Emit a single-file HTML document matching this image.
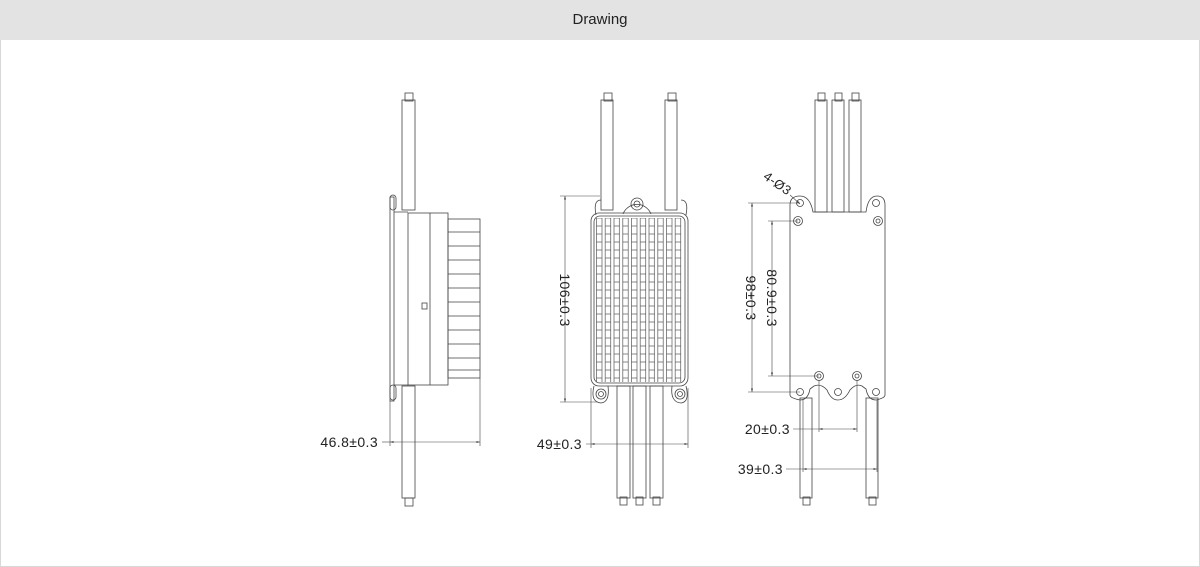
<!DOCTYPE html>
<html><head><meta charset="utf-8"><style>
html,body{margin:0;padding:0;background:#fff;width:1200px;height:567px;overflow:hidden;font-family:"Liberation Sans",sans-serif}
.hdr{position:absolute;left:0;top:0;width:1200px;height:40px;background:#e3e3e3;text-align:center;line-height:39px;font-size:15px;color:#222}
.frame{position:absolute;left:0;top:40px;width:1198px;height:526px;border:1px solid #d8d8d8;border-top:none}
svg{position:absolute;left:0;top:0}
</style></head><body>
<div class="hdr">Drawing</div><div class="frame"></div>
<svg width="1200" height="567" viewBox="0 0 1200 567">
<defs>
<pattern id="fin" x="596" y="218" width="8.75" height="8" patternUnits="userSpaceOnUse">
<rect x="0.5" y="0" width="5.5" height="8" fill="none" stroke="#555" stroke-width="0.7"/>
</pattern>
<marker id="ar" viewBox="0 0 10 10" refX="10" refY="5" markerWidth="6" markerHeight="6" orient="auto-start-reverse"><path d="M0 2 L10 5 L0 8 Z" fill="#444"/></marker>
</defs>
<g fill="none" stroke="#444" stroke-width="0.8">
<!-- LEFT VIEW -->
<rect x="405" y="93" width="8" height="8"/><rect x="402" y="100" width="13" height="110"/>
<rect x="405" y="498" width="8" height="8"/><rect x="402" y="386" width="13" height="112"/>
<rect x="390" y="197" width="4" height="204"/>
<rect x="390" y="195" width="6" height="15" rx="3"/><rect x="390" y="385" width="6" height="15" rx="3"/>
<path d="M394 212 H408 M394 385 H408"/>
<rect x="408" y="213" width="40" height="172"/><line x1="430" y1="213" x2="430" y2="385"/>
<rect x="422" y="303" width="5" height="6"/>
<rect x="448" y="219" width="32" height="159"/>
<path d="M448 232 H480 M448 246 H480 M448 260 H480 M448 274 H480 M448 288 H480 M448 302 H480 M448 316 H480 M448 330 H480 M448 344 H480 M448 358 H480 M448 370 H480"/>
<path d="M390 401 V446 M480 378 V446" stroke-width="0.6"/>
<path d="M382 442 H390" stroke-width="0.6"/>
<path d="M390 442 H480" stroke-width="0.6" marker-start="url(#ar)" marker-end="url(#ar)"/>
<!-- MIDDLE VIEW -->
<rect x="604" y="93" width="8" height="8"/><rect x="601" y="100" width="12" height="110"/>
<rect x="668" y="93" width="8" height="8"/><rect x="665" y="100" width="12" height="110"/>
<path d="M623 214 A15 15 0 0 1 651 214"/><circle cx="637" cy="204" r="6"/><circle cx="637" cy="204" r="3"/>
<path d="M596 215 Q593 200 601 200 M686 215 Q689 200 681 200"/>
<rect x="591" y="213" width="97" height="173" rx="8"/>
<rect x="594" y="216" width="91" height="167" rx="6"/>
<rect x="596" y="218" width="87" height="164" fill="url(#fin)" stroke="none"/>
<path d="M594 386 Q590 402 601 403 Q610 402 608 386"/><circle cx="601" cy="394" r="5"/><circle cx="601" cy="394" r="2.5"/>
<path d="M672 386 Q670 402 681 403 Q690 402 686 386"/><circle cx="680" cy="394" r="5"/><circle cx="680" cy="394" r="2.5"/>
<rect x="617" y="386" width="13" height="112"/><rect x="633" y="386" width="13" height="112"/><rect x="650" y="386" width="13" height="112"/>
<rect x="620" y="497" width="7" height="8"/><rect x="636" y="497" width="7" height="8"/><rect x="653" y="497" width="7" height="8"/>
<path d="M560 196 H600 M560 402 H598 M591 388 V448 M688 388 V448 M586 444 H591" stroke-width="0.6"/>
<path d="M565 196 V402" stroke-width="0.6" marker-start="url(#ar)" marker-end="url(#ar)"/>
<path d="M591 444 H688" stroke-width="0.6" marker-start="url(#ar)" marker-end="url(#ar)"/>
<!-- RIGHT VIEW -->
<rect x="818" y="93" width="7" height="8"/><rect x="815" y="100" width="12" height="112"/>
<rect x="835" y="93" width="7" height="8"/><rect x="832" y="100" width="12" height="112"/>
<rect x="852" y="93" width="7" height="8"/><rect x="849" y="100" width="12" height="112"/>
<path d="M790 395 V205 Q790 196 800 196 Q810 196 813 212 H866 Q868 196 877 196 Q885 196 885 205 V395 Q885 398 876 400 Q868 400 866 389 L862 386 Q856 383 850 390 Q845 400 838 400 Q831 400 827 390 Q821 383 814 386 L810 389 Q808 400 800 400 Q790 398 790 395 Z"/>
<circle cx="800" cy="203" r="3.5"/><circle cx="876" cy="203" r="3.5"/>
<circle cx="798" cy="221" r="4.5"/><circle cx="798" cy="221" r="2"/><circle cx="878" cy="221" r="4.5"/><circle cx="878" cy="221" r="2"/>
<circle cx="819" cy="376" r="4.5"/><circle cx="819" cy="376" r="2"/><circle cx="857" cy="376" r="4.5"/><circle cx="857" cy="376" r="2"/>
<circle cx="800" cy="392" r="3.5"/><circle cx="838" cy="392" r="3.5"/><circle cx="876" cy="392" r="3.5"/>
<rect x="800" y="398" width="12" height="100"/><rect x="866" y="398" width="12" height="100"/>
<rect x="803" y="497" width="7" height="8"/><rect x="869" y="497" width="7" height="8"/>
<path d="M748 203 H800 M748 392 H800 M768 221 H798 M768 376 H819 M819 380 V432 M857 380 V432 M793 429 H819 M803 400 V472 M877 400 V472 M786 469 H803" stroke-width="0.6"/>
<path d="M752 203 V392" stroke-width="0.6" marker-start="url(#ar)" marker-end="url(#ar)"/>
<path d="M772 221 V376" stroke-width="0.6" marker-start="url(#ar)" marker-end="url(#ar)"/>
<path d="M819 429 H857" stroke-width="0.6" marker-start="url(#ar)" marker-end="url(#ar)"/>
<path d="M803 469 H877" stroke-width="0.6" marker-start="url(#ar)" marker-end="url(#ar)"/>
<path d="M790 195 L800 204" stroke-width="0.6" marker-end="url(#ar)"/>
</g>
<g font-family="Liberation Sans, sans-serif" font-size="14" fill="#222" letter-spacing="0.4">
<text x="378" y="447" text-anchor="end">46.8±0.3</text>
<text x="582" y="449" text-anchor="end">49±0.3</text>
<text x="790" y="434" text-anchor="end">20±0.3</text>
<text x="783" y="474" text-anchor="end">39±0.3</text>
<text transform="translate(560,300) rotate(90)" text-anchor="middle">106±0.3</text>
<text transform="translate(746,298) rotate(90)" text-anchor="middle">98±0.3</text>
<text transform="translate(767,298) rotate(90)" text-anchor="middle">80.9±0.3</text>
<text transform="translate(775,187) rotate(35)" text-anchor="middle" font-size="13">4-Ø3</text>
</g>
</svg>
</body></html>
